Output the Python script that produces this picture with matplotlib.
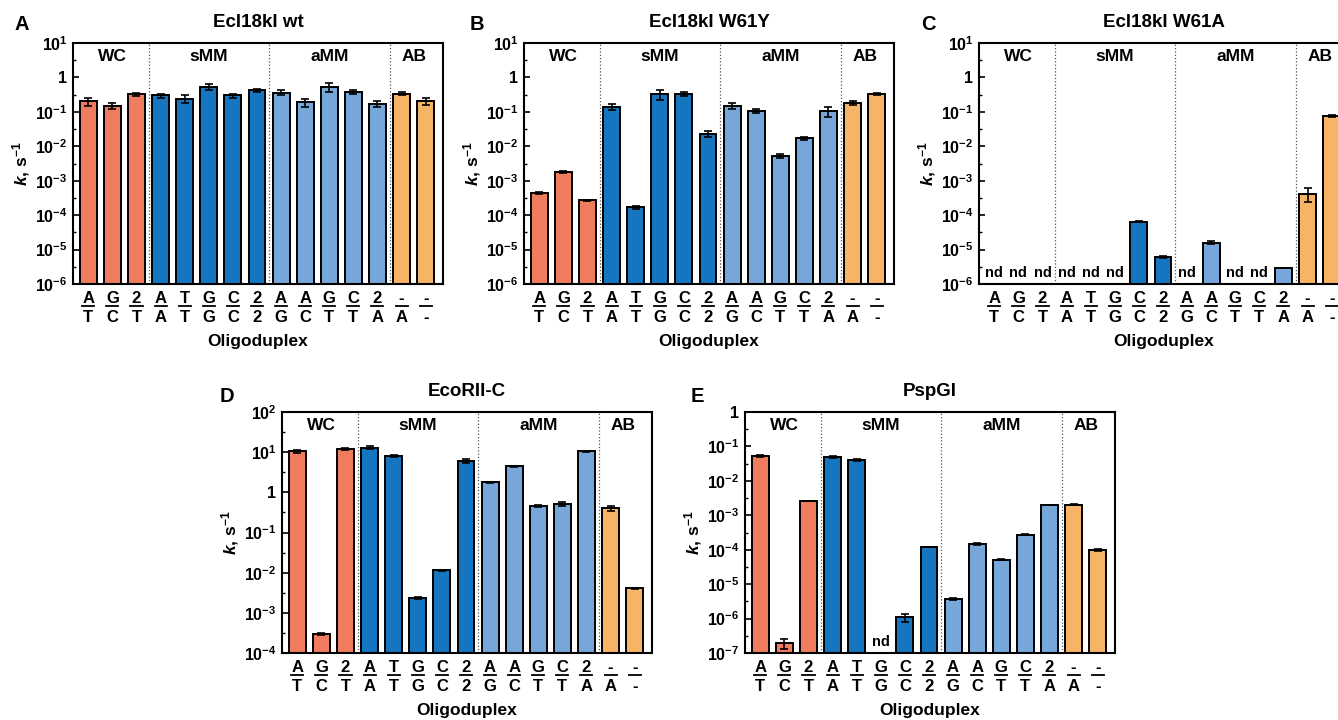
import numpy as np
import matplotlib

matplotlib.use("Agg")

import matplotlib.pyplot as plt
import matplotlib.transforms as mtransforms
from matplotlib.ticker import FixedLocator, FixedFormatter, NullFormatter

plt.rcParams["font.family"] = ["Liberation Sans", "DejaVu Sans"]
plt.rcParams["font.weight"] = "bold"
plt.rcParams["axes.labelweight"] = "bold"
plt.rcParams["mathtext.fontset"] = "custom"
plt.rcParams["mathtext.rm"] = "Liberation Sans:bold"
plt.rcParams["mathtext.it"] = "Liberation Sans:italic:bold"
plt.rcParams["mathtext.bf"] = "Liberation Sans:bold"

NAN = np.nan

# oligoduplex labels: top strand base over bottom strand base
TOP_BASES = ["A", "G", "2", "A", "T", "G", "C", "2", "A", "A", "G", "C", "2", "-", "-"]
BOTTOM_BASES = ["T", "C", "T", "A", "T", "G", "C", "2", "G", "C", "T", "T", "A", "A", "-"]
GROUPS = ["WC", "sMM", "aMM", "AB"]
GROUP_SIZES = [3, 5, 5, 2]
GROUP_COLORS = ["#EF7C5F", "#1575BF", "#77A6D8", "#F8B466"]

# rate constants k (s^-1) and errors, NaN = nd
WT_K = [0.20, 0.15, 0.32, 0.30, 0.24, 0.54, 0.30, 0.42, 0.36, 0.19, 0.54, 0.39, 0.17, 0.34, 0.21]
WT_ERR = [0.05, 0.03, 0.04, 0.04, 0.06, 0.12, 0.04, 0.05, 0.06, 0.05, 0.17, 0.05, 0.03, 0.04, 0.05]

W61Y_K = [4.5e-4, 1.8e-3, 2.7e-4, 0.14, 1.7e-4, 0.33, 0.33, 0.023, 0.15, 0.107, 5.3e-3, 0.017, 0.105, 0.18, 0.33]
W61Y_ERR = [3e-5, 1e-4, 1e-5, 0.03, 1.5e-5, 0.11, 0.04, 0.005, 0.025, 0.015, 7e-4, 2e-3, 0.035, 0.02, 0.02]

W61A_K = [NAN, NAN, NAN, NAN, NAN, NAN, 6.4e-5, 6.0e-6, NAN, 1.6e-5, NAN, NAN, 3.0e-6, 4.2e-4, 0.076]
W61A_ERR = [NAN, NAN, NAN, NAN, NAN, NAN, 2e-6, 3e-7, NAN, 1.3e-6, NAN, NAN, 0.0, 1.8e-4, 5e-3]

ECORII_K = [10.5, 3.0e-4, 12.0, 13.0, 8.0, 2.3e-3, 0.0115, 6.1, 1.8, 4.4, 0.45, 0.52, 10.5, 0.40, 4.1e-3]
ECORII_ERR = [0.8, 1.5e-5, 0.6, 1.0, 0.4, 1.5e-4, 4e-4, 0.7, 0.05, 0.15, 0.03, 0.06, 0.2, 0.05, 1e-4]

PSPGI_K = [0.053, 1.9e-7, 2.6e-3, 0.050, 0.041, NAN, 1.1e-6, 1.2e-4, 3.7e-6, 1.45e-4, 5.1e-5, 2.75e-4, 2.0e-3, 2.05e-3, 9.8e-5]
PSPGI_ERR = [3e-3, 6e-8, 5e-5, 3e-3, 2e-3, NAN, 2.8e-7, 3e-6, 1.5e-7, 8e-6, 1e-6, 1.5e-5, 5e-5, 1e-4, 6e-6]

W, H = 1338, 720


def _decade_label(n):
    if n == 0:
        return "1"
    return "$10^{%d}$" % n


def draw_panel(rect, letter, letter_xy, title, values, errors, lo, hi):
    ax = fig.add_axes(rect)
    values = np.array(values, dtype=float)
    errors = np.array(errors, dtype=float)
    x = np.arange(len(values))
    colors = []
    for color, size in zip(GROUP_COLORS, GROUP_SIZES):
        colors += [color] * size
    colors = np.array(colors)

    ax.set_yscale("log")
    ax.set_ylim(10.0 ** lo, 10.0 ** hi)
    ax.set_xlim(-0.635, 14.72)

    ok = ~np.isnan(values)
    ax.bar(x[ok], values[ok], width=0.7, color=colors[ok], edgecolor="black", linewidth=1.4, zorder=2)
    ax.errorbar(x[ok], values[ok], yerr=errors[ok], fmt="none", ecolor="black",
                elinewidth=1.2, capsize=3, capthick=1.2, zorder=3)
    trans = mtransforms.blended_transform_factory(ax.transData, ax.transAxes)
    for xi in x[~ok]:
        ax.text(xi, 0.045, "nd", transform=trans, ha="center", va="center", fontsize=10.5)

    # group separators and names
    edges = np.cumsum(GROUP_SIZES)
    start = 0
    for name, size, edge in zip(GROUPS, GROUP_SIZES, edges):
        ax.text(start + (size - 1) / 2, 0.946, name, transform=trans, ha="center", va="center", fontsize=12.5)
        if edge < len(values):
            ax.axvline(edge - 0.5, color="#555555", linestyle=":", linewidth=0.9, zorder=1)
        start = edge

    # y ticks
    decades = np.arange(lo, hi + 1)
    ax.yaxis.set_major_locator(FixedLocator(10.0 ** decades))
    ax.yaxis.set_major_formatter(FixedFormatter([_decade_label(int(n)) for n in decades]))
    ax.yaxis.set_minor_locator(FixedLocator(10.0 ** (decades[:-1] + 0.5)))
    ax.yaxis.set_minor_formatter(NullFormatter())
    ax.tick_params(axis="y", which="major", direction="in", length=4, width=1.2, labelsize=11.5, pad=4)
    ax.tick_params(axis="y", which="minor", direction="in", length=2.5, width=1.0)
    ax.tick_params(axis="x", which="both", bottom=False, labelbottom=False)
    for spine in ax.spines.values():
        spine.set_linewidth(1.5)

    # duplex labels
    for xi, top, bottom in zip(x, TOP_BASES, BOTTOM_BASES):
        ax.text(xi, -0.062, top, transform=trans, ha="center", va="center", fontsize=12, clip_on=False)
        ax.plot([xi - 0.25, xi + 0.25], [-0.09, -0.09], transform=trans, color="black",
                linewidth=1.3, clip_on=False)
        ax.text(xi, -0.138, bottom, transform=trans, ha="center", va="center", fontsize=12, clip_on=False)

    ax.text(0.5, -0.24, "Oligoduplex", transform=ax.transAxes, ha="center", va="center", fontsize=12.5)
    ax.set_ylabel("$k$, s$^{-1}$", fontsize=12.5, labelpad=2)
    ax.text(0.5, 1.085, title, transform=ax.transAxes, ha="center", va="center", fontsize=13.5)
    fig.text(letter_xy[0] / W, 1 - letter_xy[1] / H, letter, ha="center", va="center", fontsize=14.5)
    return ax


fig = plt.figure(figsize=(W / 100, H / 100), dpi=100)

aw, ah = 370 / W, 241 / H
top_row = 1 - 284 / H
bottom_row = 1 - 653 / H

draw_panel([73 / W, top_row, aw, ah], "A", (22, 24), "Ecl18kI wt", WT_K, WT_ERR, -6, 1)
draw_panel([524 / W, top_row, aw, ah], "B", (477, 24), "Ecl18kI W61Y", W61Y_K, W61Y_ERR, -6, 1)
draw_panel([979 / W, top_row, aw, ah], "C", (928, 24), "Ecl18kI W61A", W61A_K, W61A_ERR, -6, 1)
draw_panel([282 / W, bottom_row, aw, ah], "D", (227, 397), "EcoRII-C", ECORII_K, ECORII_ERR, -4, 2)
draw_panel([745 / W, bottom_row, aw, ah], "E", (697, 397), "PspGI", PSPGI_K, PSPGI_ERR, -7, 0)

fig.savefig("out.png", dpi=100)
